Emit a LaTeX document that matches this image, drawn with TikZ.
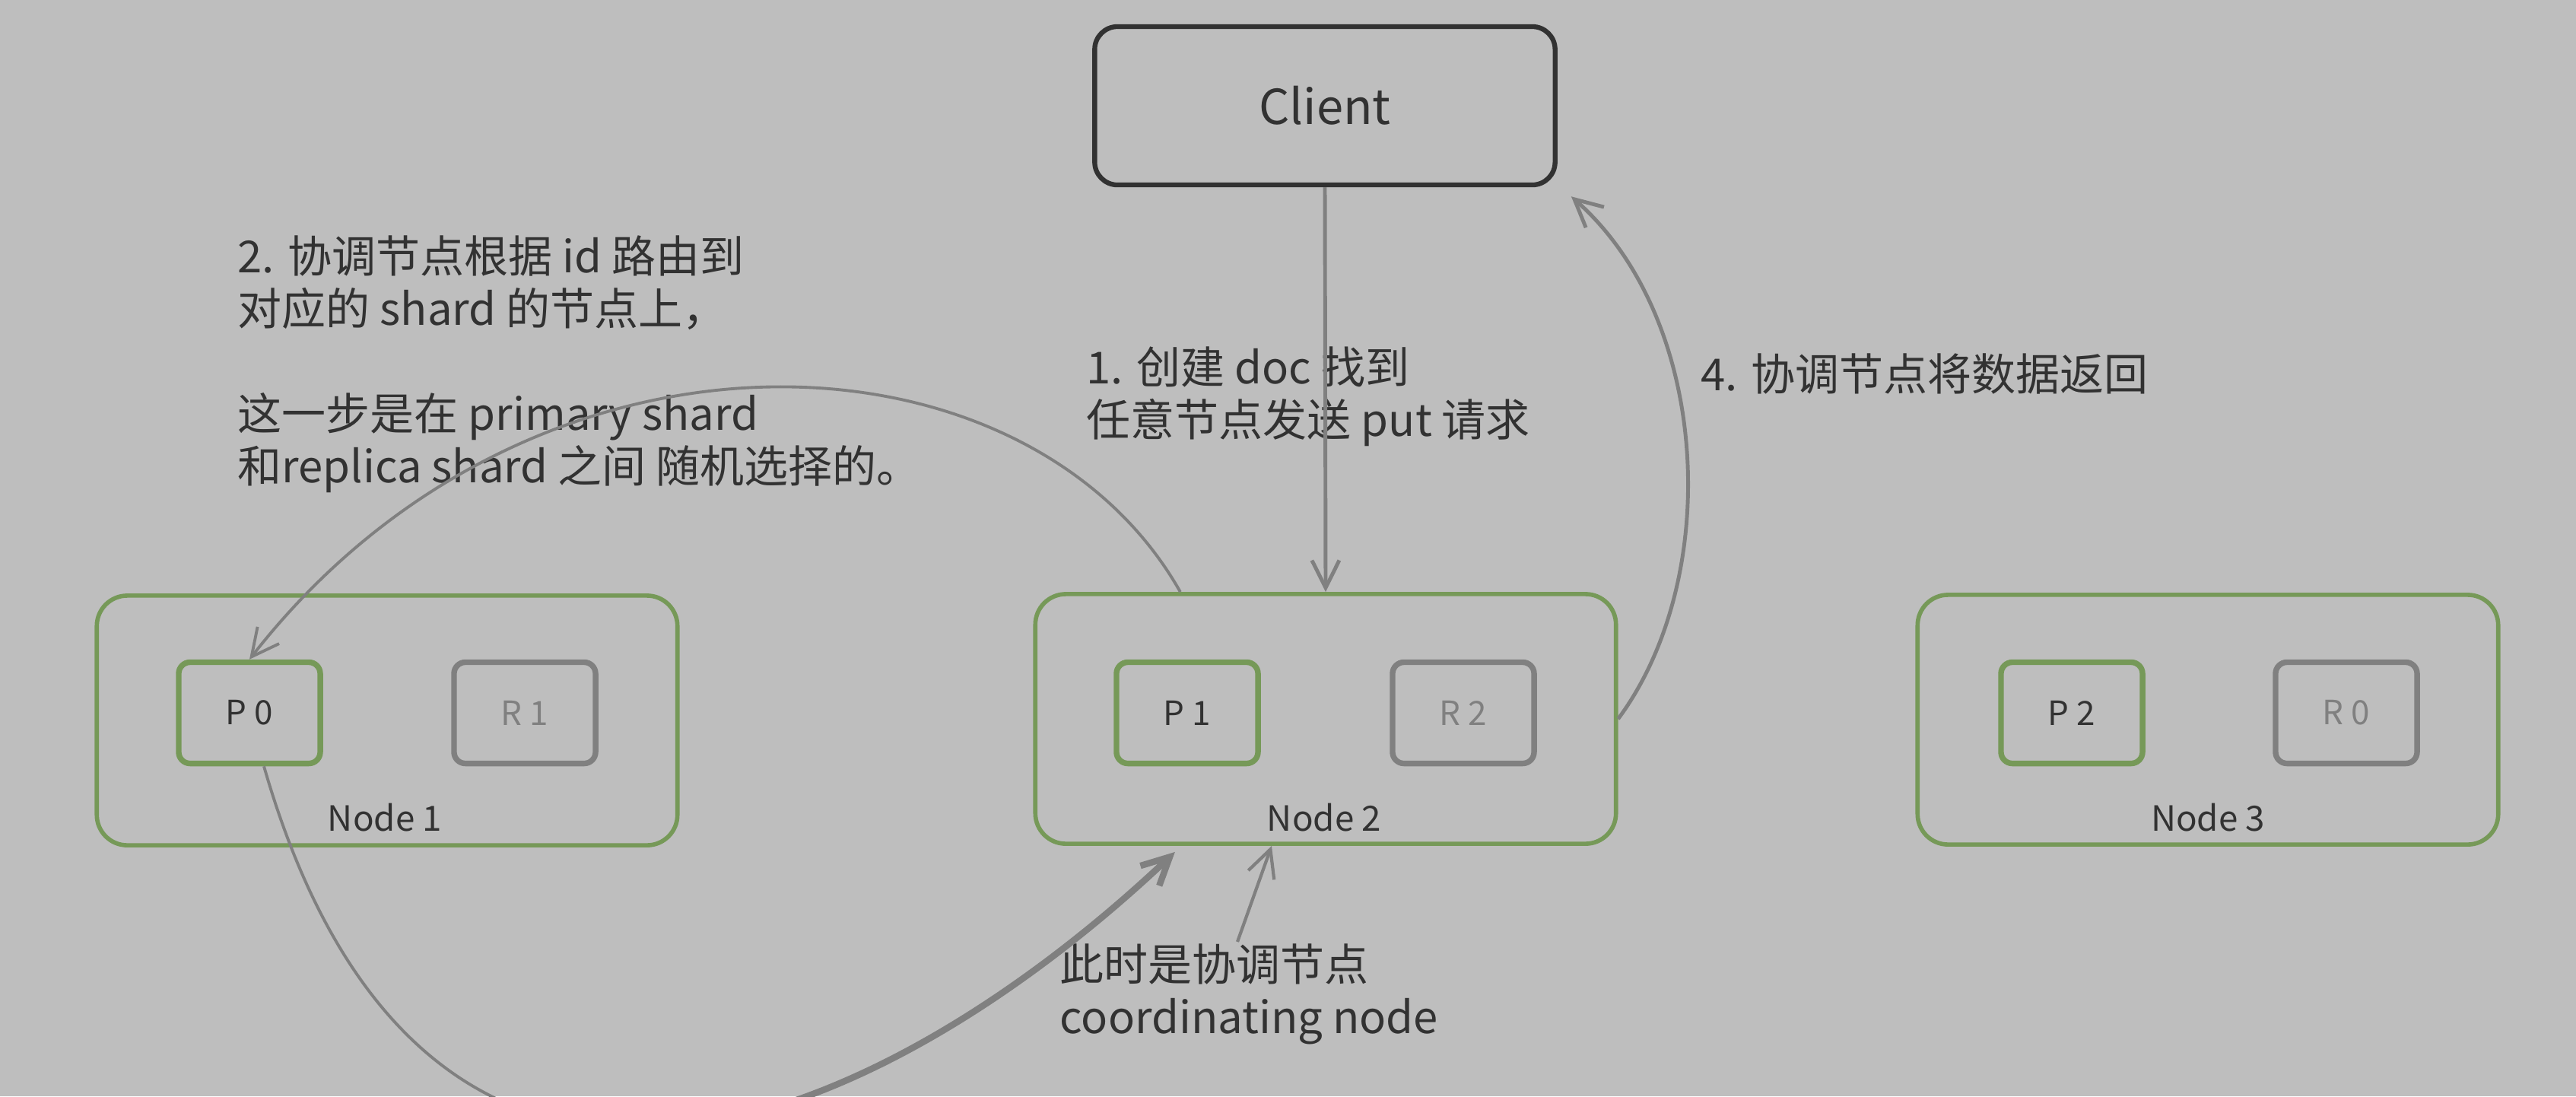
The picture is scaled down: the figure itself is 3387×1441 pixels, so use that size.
\documentclass[tikz,border=0pt]{standalone}
\usepackage{fontspec}
\setmainfont{Noto Sans CJK SC}
\usetikzlibrary{arrows.meta}
\definecolor{bg}{RGB}{190,190,190}
\definecolor{grn}{RGB}{118,153,88}
\definecolor{gry}{RGB}{128,128,128}
\definecolor{ink}{RGB}{50,50,50}
\begin{document}
\begin{tikzpicture}[x=0.01cm,y=-0.01cm,
  client/.style={draw=ink, line width=1.8pt, rounded corners=0.3cm, minimum width=6.05cm, minimum height=2.08cm, text=ink, font=\fontsize{18}{22}\selectfont},
  server/.style={draw=grn, line width=1.6pt, rounded corners=0.4cm, minimum width=7.63cm, minimum height=3.28cm},
  pbox/.style={draw=grn, line width=2.1pt, rounded corners=0.15cm, minimum width=1.86cm, minimum height=1.33cm, text=ink, font=\fontsize{12.5}{15}\selectfont},
  rbox/.style={pbox, draw=gry, text=gry},
  nlabel/.style={text=ink, font=\fontsize{13}{15}\selectfont},
  note/.style={text=ink, align=left, anchor=base west, inner sep=0pt, font=\fontsize{16.5}{19.6}\selectfont},
  conn/.style={draw=gry, line width=1.4pt, -{Straight Barb[length=0.36cm,width=0.36cm]}},
]
\useasboundingbox (0,0) rectangle (3387,1441);
\fill[bg] (0,0) rectangle (3387,1441);
\clip (0,0) rectangle (3387,1441);

\node[client] (client) at (1742,139) {Client};
\node[server] (n1) at (509,947) {};
\node[server] (n2) at (1743,945) {};
\node[server] (n3) at (2903,946) {};
\node[pbox] (p0) at (328,937) {P 0};
\node[rbox] (r1) at (690,937) {R 1};
\node[pbox] (p1) at (1561,937) {P 1};
\node[rbox] (r2) at (1924,937) {R 2};
\node[pbox] (p2) at (2724,937) {P 2};
\node[rbox] (r0) at (3085,937) {R 0};
\node[nlabel] (l1) at (506,1075) {Node 1};
\node[nlabel] (l2) at (1741,1075) {Node 2};
\node[nlabel] (l3) at (2903,1075) {Node 3};

\node[note] (t2) at (312,634) {2. 协调节点根据 id 路由到\\对应的 shard 的节点上，\\[19.6pt]这一步是在 primary shard\\和replica shard 之间 随机选择的。};
\node[note] (t1) at (1428,573) {1. 创建 doc 找到\\任意节点发送 put 请求};
\node[note] (t4) at (2236,513) {4. 协调节点将数据返回};
\node[note] (tc) at (1393,1358) {此时是协调节点\\coordinating node};
\coordinate (ctail) at (1627,1238);
\coordinate (m3) at (878,1483);

\draw[conn] (client.south) -- (n2.north);
\draw[conn, line width=1.1pt] ([xshift=-1.91cm]n2.north) .. controls (1350,420) and (700,390) .. (p0.north);
\draw[conn] (n2.east) .. controls (2265,760) and (2250,420) .. ([xshift=0.18cm,yshift=-0.12cm]client.south east);
\draw[draw=gry, line width=1.1pt] ([xshift=0.19cm]p0.south) .. controls (453,1376) and (654,1501) .. (m3);
\draw[conn, line width=2.4pt] (m3) .. controls (1101,1466) and (1347,1307) .. ([xshift=-1.98cm,yshift=-0.08cm]n2.south);
\draw[conn, line width=1.2pt] (ctail) -- ([xshift=-0.71cm]n2.south);
\end{tikzpicture}
\end{document}
